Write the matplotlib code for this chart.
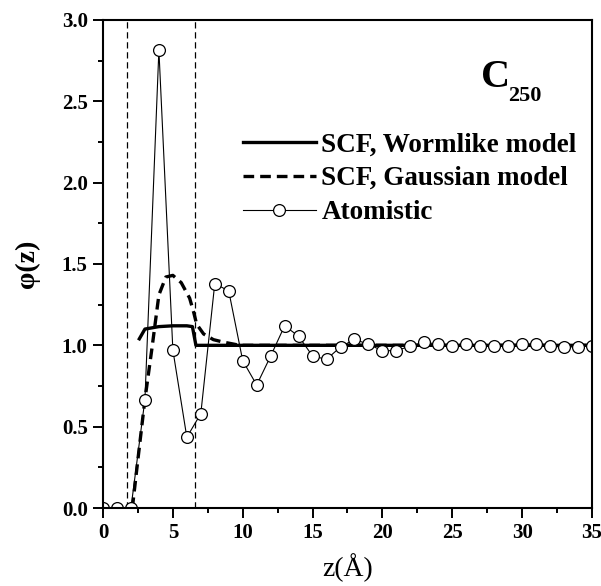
import numpy as np
import matplotlib
matplotlib.use("Agg")
import matplotlib.pyplot as plt
from matplotlib.ticker import MultipleLocator, FormatStrFormatter

plt.rcParams['font.family'] = ['Liberation Serif', 'DejaVu Serif']
plt.rcParams['font.weight'] = 'bold'

# atomistic density profile, one point per Angstrom
z_atom = np.arange(0, 36)
phi_atom = [0.0, 0.0, 0.0, 0.667, 2.816, 0.971, 0.435, 0.58, 1.38, 1.334,
            0.906, 0.756, 0.934, 1.12, 1.056, 0.934, 0.914, 0.99, 1.037, 1.006,
            0.967, 0.967, 0.996, 1.018, 1.008, 0.994, 1.008, 0.996, 0.996, 0.996,
            1.006, 1.008, 0.996, 0.988, 0.992, 0.996]

# SCF wormlike chain
z_worm = [2.6, 3.0, 4.0, 5.0, 6.0, 6.4, 6.65, 10.0, 35.0]
phi_worm = [1.04, 1.10, 1.115, 1.12, 1.12, 1.115, 1.0, 1.0, 1.0]

# SCF gaussian chain
z_gauss = [2.1, 2.5, 3.0, 3.5, 4.0, 4.5, 5.0, 5.6, 6.2, 6.5, 6.7, 7.2, 7.9, 8.6, 9.8, 35.0]
phi_gauss = [0.0, 0.3, 0.667, 0.98, 1.31, 1.42, 1.43, 1.385, 1.29, 1.2, 1.13,
             1.07, 1.035, 1.02, 1.0, 1.0]

# boundaries of the adsorbed layer
z_walls = [1.75, 6.6]

fig = plt.figure(figsize=(6.01, 5.86), dpi=100)
ax = fig.add_axes([0.1714, 0.1331, 0.8136, 0.8328])

for zw in z_walls:
    ax.axvline(zw, color='black', lw=0.9, ls=(0, (5, 3)))

ax.plot(z_worm, phi_worm, color='black', lw=2.4, label='SCF, Wormlike model')
ax.plot(z_gauss, phi_gauss, color='black', lw=2.4, ls=(0, (3.2, 1.8)),
        label='SCF, Gaussian model')
ax.plot(z_atom, phi_atom, color='black', lw=0.8, marker='o', ms=8.5,
        mfc='white', mec='black', mew=0.9, label='Atomistic')

ax.set_xlim(0, 35)
ax.set_ylim(0, 3.0)
ax.xaxis.set_major_locator(MultipleLocator(5))
ax.xaxis.set_minor_locator(MultipleLocator(2.5))
ax.yaxis.set_major_locator(MultipleLocator(0.5))
ax.yaxis.set_minor_locator(MultipleLocator(0.25))
ax.yaxis.set_major_formatter(FormatStrFormatter('%.1f'))
ax.tick_params(which='both', direction='out', top=False, right=False, width=1.4)
ax.tick_params(which='major', length=7, labelsize=15, pad=4)
ax.tick_params(which='minor', length=3.5)
for sp in ax.spines.values():
    sp.set_linewidth(1.5)

ax.set_xlabel('z(Å)', fontsize=20, fontweight='normal', labelpad=7)
ax.set_ylabel('φ(z)', fontsize=20, fontweight='bold', labelpad=16)

# chain length tag
ax.text(0.773, 0.882, 'C', transform=ax.transAxes, fontsize=29,
        ha='left', va='center')
ax.text(0.828, 0.845, '250', transform=ax.transAxes, fontsize=16,
        ha='left', va='center')

leg = ax.legend(loc='upper left', bbox_to_anchor=(0.286, 0.770), frameon=False,
                prop={'weight': 'bold', 'size': 19.5}, handlelength=2.7,
                handletextpad=0.2, labelspacing=0.33, borderaxespad=0,
                borderpad=0)

fig.savefig('out.png', dpi=100)
